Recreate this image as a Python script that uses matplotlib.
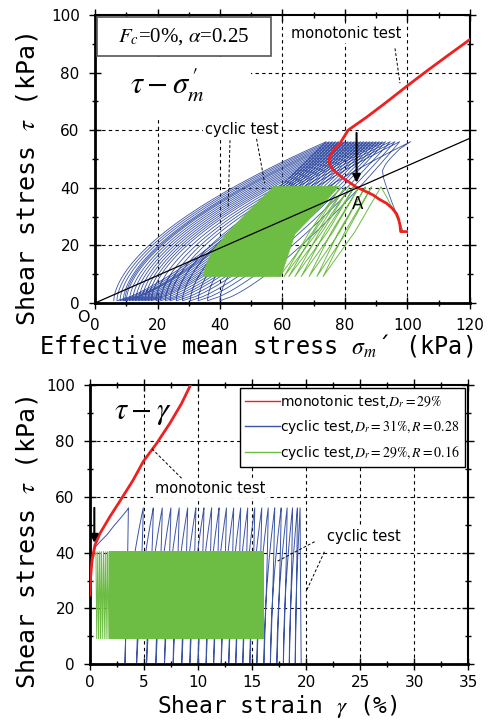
import numpy as np
import matplotlib
matplotlib.use("Agg")
import matplotlib.pyplot as plt
from matplotlib.patches import Rectangle, Polygon
from matplotlib.lines import Line2D
from matplotlib.ticker import MultipleLocator

plt.rcParams["mathtext.fontset"] = "stix"

RED = "#ee2020"
BLUE = "#3b54a6"
GREEN = "#6dbd45"

# ---------------- stress path (tau - sigma_m') ----------------
# monotonic test
mono_p = [99.7, 97.8, 97.6, 97.2, 96.5, 95.0, 93.3, 91.0, 89.0, 86.5, 83.7, 81.5, 79.5,
          77.7, 76.3, 75.3, 74.9, 75.0, 75.7, 76.8, 78.4, 81.0, 86.9, 93.0, 99.7, 106.0, 113.0, 120.0]
mono_tau = [24.8, 24.8, 27.0, 29.0, 31.0, 33.0, 34.6, 36.0, 37.5, 38.8, 40.2, 41.8, 43.3,
            44.8, 46.2, 47.6, 49.0, 50.5, 52.0, 53.7, 55.4, 60.0, 64.5, 69.5, 75.2, 80.4, 86.0, 91.5]

# cyclic test R=0.28 (blue): first loading then peaks / troughs of each cycle
blue_first_p = [98.5, 96.8, 95.0, 93.5, 92.3, 92.0, 93.0, 94.5, 97.5, 101.0]
blue_first_tau = [25.0, 30.0, 35.0, 39.5, 43.5, 46.0, 48.2, 50.2, 53.5, 56.0]
blue_peak_p = [101.0, 97.5, 96.0, 94.5, 93.0, 92.0, 91.0, 90.0, 89.0, 88.0, 87.0, 86.0,
               85.0, 84.0, 83.0, 82.0, 81.0, 80.0, 79.0, 78.0, 77.0, 76.0, 75.0, 74.0]
blue_trough_p = [40.0, 36.0, 33.0, 30.5, 28.0, 26.0, 24.0, 22.5, 21.0, 19.5, 18.0, 17.0,
                 16.0, 15.0, 14.0, 13.0, 12.0, 11.0, 10.0, 9.5, 9.0, 8.0, 7.0, 6.0]
blue_tau_max = 56.0
blue_tau_min = 0.8

# cyclic test R=0.16 (green)
green_first_p = [98.5, 96.0, 93.5, 91.5]
green_first_tau = [25.0, 31.0, 36.5, 40.3]
green_top_p = [91.5, 88.5, 86.5, 84.5, 83.0, 81.5, 80.0, 78.5]
green_bot_p = [73.0, 71.0, 68.5, 66.0, 64.0, 62.0, 60.5, 59.0]
green_tau_max = 40.3
green_tau_min = 9.2
green_zone_p = [34.6, 35.5, 37.5, 41.0, 44.3, 50.7, 57.3, 78.0, 72.0, 64.0, 59.5]
green_zone_tau = [9.2, 13.0, 18.0, 22.5, 26.6, 33.6, 40.5, 40.5, 33.0, 24.0, 9.2]

line_p = [0, 120]
line_tau = [0, 57.2]

# ---------------- tau - gamma ----------------
mono_g = [0.0, 0.06, 0.19, 0.46, 0.93, 1.85, 2.93, 4.0, 4.93, 6.17, 7.4, 8.48, 9.31, 9.6]
mono_gt = [24.8, 31.4, 37.4, 42.7, 46.9, 52.9, 59.4, 66.0, 72.6, 79.1, 86.3, 93.4, 100.0, 102.0]

blue_first_g = [0.0, 0.05, 0.2, 0.5, 0.93, 1.6, 2.16, 3.08, 3.55]
blue_first_gt = [25.0, 32.0, 37.5, 42.0, 43.9, 46.5, 49.3, 53.5, 55.8]
blue_peak_g = [3.55, 4.93, 5.86, 6.69, 7.49, 8.26, 9.04, 9.8, 10.55, 11.26, 11.95, 12.63,
               13.3, 13.95, 14.6, 15.25, 15.9, 16.5, 17.1, 17.7, 18.25, 18.75, 19.2, 19.45]
blue_trough_g = [3.24, 4.32, 5.24, 6.1, 6.9, 7.7, 8.5, 9.25, 10.0, 10.75, 11.45, 12.15,
                 12.85, 13.5, 14.15, 14.8, 15.45, 16.1, 16.7, 17.3, 17.9, 18.45, 19.0, 19.55]

green_first_g = [0.0, 0.1, 0.3, 0.55]
green_first_gt = [25.0, 33.0, 38.0, 40.3]
green_peak_g = [0.55, 0.72, 0.9, 1.07, 1.25, 1.42, 1.6, 1.78]
green_trough_g = [0.62, 0.79, 0.97, 1.14, 1.32, 1.49, 1.67, 1.85]
green_block_g = [1.75, 16.15]


def leg(lo, hi, tlo, thi, su, sf, n=40):
    u = np.linspace(0, 1, n)
    f = np.interp(u, su, sf)
    return lo + (hi - lo) * f, tlo + (thi - tlo) * u


def cycles(x0, y0, peaks, troughs, tmin, tmax, rel, unl):
    xs, ys = list(x0), list(y0)
    for i in range(len(peaks)):
        if i > 0:
            x, y = leg(troughs[i - 1], peaks[i], tmin, tmax, *rel)
            xs += list(x); ys += list(y)
        x, y = leg(troughs[i], peaks[i], tmin, tmax, *unl)
        xs += list(x[::-1]); ys += list(y[::-1])
    return xs, ys


_u = np.linspace(0, 1, 41)
SP_REL = (_u, _u ** 0.75)
SP_UNL = (_u, _u ** 1.7)
GR_REL = ([0, 0.5, 1], [0, 0.45, 1])
GR_UNL = ([0, 0.5, 1], [0, 0.55, 1])
TG_REL = (_u, _u ** 1.8)
TG_UNL = (_u, 1 - (1 - _u) ** 1.3)


def style(ax, xpad=7):
    for s in ["left", "bottom"]:
        ax.spines[s].set_linewidth(2)
    for s in ["top", "right"]:
        ax.spines[s].set_linewidth(1.5)
    ax.tick_params(which="both", direction="inout", top=True, right=True, labelsize=11)
    ax.tick_params(axis="y", pad=7)
    ax.tick_params(axis="x", pad=xpad)
    ax.tick_params(which="major", length=8, width=1)
    ax.tick_params(which="minor", length=5, width=1)


def dash(ax, x, y, lw=0.8):
    ax.plot(x, y, color="k", lw=lw, ls=(0, (3, 3)), zorder=0.5)


fig = plt.figure(figsize=(4.91, 7.22), dpi=100)

# ===== upper =====
ax1 = fig.add_axes([0.1935, 0.5803, 0.7637, 0.399])
for v in [20, 40, 60, 80, 100]:
    dash(ax1, [v, v], [0, 100])
for h in [20, 40, 60, 80]:
    dash(ax1, [0, 120], [h, h])

ax1.add_patch(Rectangle((0.5, 64.5), 49.5, 21, fc="white", ec="none", zorder=0.8))
ax1.add_patch(Rectangle((0.7, 85.9), 55.5, 13.3, fc="white", ec="#555555", lw=1.2, zorder=3))
ax1.text(28.3, 92.4, r"$F_c$=0%, $\alpha$=0.25", family="Liberation Serif", fontsize=15,
         ha="center", va="center", zorder=4)
ax1.text(23, 75.5, r"$\tau-\sigma_{m}^{\,\prime}$", fontsize=22, ha="center", va="center", zorder=4)

bx, by = cycles(blue_first_p, blue_first_tau, blue_peak_p, blue_trough_p,
                blue_tau_min, blue_tau_max, SP_REL, SP_UNL)
ax1.plot(bx, by, color=BLUE, lw=0.6, zorder=2)

ax1.add_patch(Polygon(np.column_stack([green_zone_p, green_zone_tau]), closed=True,
                      fc=GREEN, ec=GREEN, lw=0.5, zorder=2.5))
gx, gy = cycles(green_first_p, green_first_tau, green_top_p, green_bot_p,
                green_tau_min, green_tau_max, GR_REL, GR_UNL)
ax1.plot(gx, gy, color=GREEN, lw=0.7, zorder=2.5)

ax1.plot(mono_p, mono_tau, color=RED, lw=2, zorder=3)
ax1.plot(line_p, line_tau, color="k", lw=0.9, zorder=3.5)
ax1.annotate("", xy=(83.7, 40.8), xytext=(83.7, 60),
             arrowprops=dict(arrowstyle="-|>", color="k", lw=1.5, mutation_scale=12), zorder=4)
ax1.text(84, 34.5, "A", fontsize=12, ha="center", va="center", zorder=4)

ax1.text(80.5, 93.7, "monotonic test", fontsize=10.5, ha="center", va="center", zorder=1,
         bbox=dict(fc="white", ec="none", pad=1.5))
ax1.plot([96, 97.6], [88.4, 76.3], color="k", lw=0.7, ls=(0, (3, 2)), zorder=3)
ax1.text(47, 60.2, "cyclic test", fontsize=10.5, ha="center", va="center", zorder=1,
         bbox=dict(fc="white", ec="none", pad=1.5))
ax1.plot([43.2, 42.6], [56.5, 32.8], color="k", lw=0.7, ls=(0, (3, 2)), zorder=3)
ax1.plot([51.7, 54.3], [57.0, 41.6], color="k", lw=0.7, ls=(0, (3, 2)), zorder=3)

ax1.set_xlim(0, 120)
ax1.set_ylim(0, 100)
ax1.xaxis.set_major_locator(MultipleLocator(20))
ax1.xaxis.set_minor_locator(MultipleLocator(10))
ax1.yaxis.set_major_locator(MultipleLocator(20))
ax1.yaxis.set_minor_locator(MultipleLocator(10))
style(ax1)
ax1.text(-3.6, -5.0, "O", fontsize=11.5, ha="center", va="center", clip_on=False)

fig.text(0.522, 0.521, r"Effective mean stress $\sigma_m$´ (kPa)", family="DejaVu Sans Mono",
         fontsize=17, ha="center", va="center")
fig.text(0.056, 0.752, r"Shear stress $\tau$ (kPa)", family="DejaVu Sans Mono",
         fontsize=18, ha="center", va="center", rotation=90)

# ===== lower =====
ax2 = fig.add_axes([0.1833, 0.0799, 0.770, 0.3869])
for v in [5, 10, 15, 20, 25, 30]:
    dash(ax2, [v, v], [0, 100])
for h in [20, 40, 60, 80]:
    dash(ax2, [0, 35], [h, h])

bx, by = cycles(blue_first_g, blue_first_gt, blue_peak_g, blue_trough_g,
                0.5, blue_tau_max, TG_REL, TG_UNL)
ax2.plot(bx, by, color=BLUE, lw=0.7, zorder=2)

gx, gy = cycles(green_first_g, green_first_gt, green_peak_g, green_trough_g,
                green_tau_min, green_tau_max, GR_REL, GR_UNL)
ax2.plot(gx, gy, color=GREEN, lw=0.7, zorder=2.5)
ax2.fill_between(green_block_g, [green_tau_min] * 2, [green_tau_max + 0.2] * 2,
                 color=GREEN, lw=0, zorder=2.5)

ax2.plot(mono_g, mono_gt, color=RED, lw=2, zorder=3)
ax2.annotate("", xy=(0.4, 42.5), xytext=(0.4, 57),
             arrowprops=dict(arrowstyle="-|>", color="k", lw=1.5, mutation_scale=12), zorder=4)

ax2.text(4.9, 90, r"$\tau-\gamma$", fontsize=22, ha="center", va="center", zorder=4)
ax2.text(11.1, 63, "monotonic test", fontsize=10.5, ha="center", va="center", zorder=1,
         bbox=dict(fc="white", ec="none", pad=1.5))
ax2.plot([8.48, 5.7], [66.6, 77.3], color="k", lw=0.7, ls=(0, (3, 2)), zorder=3)
ax2.text(25.4, 45.7, "cyclic test", fontsize=10.5, ha="center", va="center", zorder=1,
         bbox=dict(fc="white", ec="none", pad=1.5))
ax2.plot([20.8, 17.3], [43.9, 36.8], color="k", lw=0.7, ls=(0, (3, 2)), zorder=3)
ax2.plot([21.7, 20.0], [40.3, 26.0], color="k", lw=0.7, ls=(0, (3, 2)), zorder=3)

handles = [Line2D([], [], color=RED, lw=1), Line2D([], [], color=BLUE, lw=1),
           Line2D([], [], color=GREEN, lw=1)]
labels = [r"monotonic test,$D_r\mathrm{=29\%}$",
          r"cyclic test,$D_r\mathrm{=31\%},R\mathrm{=0.28}$",
          r"cyclic test,$D_r\mathrm{=29\%},R\mathrm{=0.16}$"]
leg_ = ax2.legend(handles, labels, loc="upper right", fontsize=10, handlelength=2.5,
                  handletextpad=0.0, borderaxespad=0.2, fancybox=False, framealpha=1,
                  edgecolor="k", labelspacing=0.55, borderpad=0.4)
leg_.get_frame().set_linewidth(1.0)
leg_.set_zorder(5)

ax2.set_xlim(0, 35)
ax2.set_ylim(0, 100)
ax2.xaxis.set_major_locator(MultipleLocator(5))
ax2.xaxis.set_minor_locator(MultipleLocator(2.5))
ax2.yaxis.set_major_locator(MultipleLocator(20))
ax2.yaxis.set_minor_locator(MultipleLocator(10))
style(ax2, xpad=4)

fig.text(0.564, 0.021, r"Shear strain $\gamma$ (%)", family="DejaVu Sans Mono",
         fontsize=16.5, ha="center", va="center")
fig.text(0.056, 0.249, r"Shear stress $\tau$ (kPa)", family="DejaVu Sans Mono",
         fontsize=18, ha="center", va="center", rotation=90)

fig.savefig("out.png", dpi=100)
